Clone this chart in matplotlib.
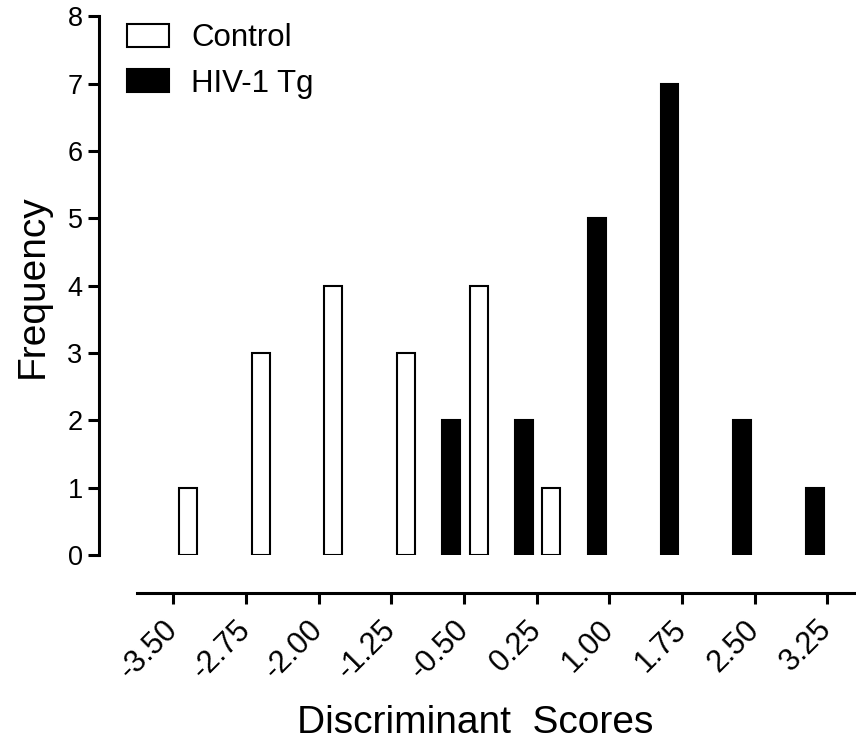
import matplotlib
matplotlib.use("Agg")
import matplotlib.pyplot as plt
import numpy as np

plt.rcParams['font.family'] = ['Liberation Sans', 'DejaVu Sans']

# Data
bin_labels = ["-3.50", "-2.75", "-2.00", "-1.25", "-0.50", "0.25", "1.00", "1.75", "2.50", "3.25"]
bin_values = [-3.50, -2.75, -2.00, -1.25, -0.50, 0.25, 1.00, 1.75, 2.50, 3.25]
control_counts = [1, 3, 4, 3, 4, 1, 0, 0, 0, 0]
hiv_counts = [0, 0, 0, 0, 2, 2, 5, 7, 2, 1]
series_names = ["Control", "HIV-1 Tg"]

W, H = 856, 742
fig = plt.figure(figsize=(W / 100, H / 100), dpi=100)
ax = fig.add_axes([99.3 / W, (H - 555) / H, (W - 99.3) / W, 538.7 / H])

bins = np.array(bin_values)
ctrl = np.array(control_counts)
hiv = np.array(hiv_counts)
bw = 0.185
cm = ctrl > 0
hm = hiv > 0
ax.bar(bins[cm] + 0.15, ctrl[cm], width=bw, facecolor='white', edgecolor='black',
       linewidth=1.5, label=series_names[0], zorder=3)
ax.bar(bins[hm] - 0.13, hiv[hm], width=bw, facecolor='black', edgecolor='black',
       linewidth=1.5, label=series_names[1], zorder=3)

ax.set_xlim(-4.264, 3.545)
ax.set_ylim(0, 8)

for s in ['top', 'right']:
    ax.spines[s].set_visible(False)
ax.spines['left'].set_linewidth(2.2)
ax.spines['bottom'].set_linewidth(2.2)
ax.spines['bottom'].set_position(('outward', 27.4))
ax.spines['bottom'].set_bounds(-3.87, 3.545)

ax.set_yticks(range(0, 9))
ax.set_yticklabels([str(i) for i in range(0, 9)], fontsize=19.5)
ax.set_xticks(bin_values)
ax.set_xticklabels(bin_labels, fontsize=22, rotation=45, ha='right', va='center',
                   rotation_mode='anchor')
ax.tick_params(axis='both', width=2.2, length=8, color='black')
ax.tick_params(axis='y', pad=4)
ax.tick_params(axis='x', pad=15)

ax.set_ylabel("Frequency", fontsize=28, labelpad=12)
ax.set_xlabel("Discriminant  Scores", fontsize=28)
ax.xaxis.set_label_coords(0.4965, -0.278)

leg = ax.legend(loc='upper left', bbox_to_anchor=(0.0197, 1.0106), frameon=False, fontsize=22.5,
                handlelength=1.34, handleheight=0.77, labelspacing=0.5, handletextpad=0.72,
                borderaxespad=0.0)

fig.savefig("out.png", dpi=100)
